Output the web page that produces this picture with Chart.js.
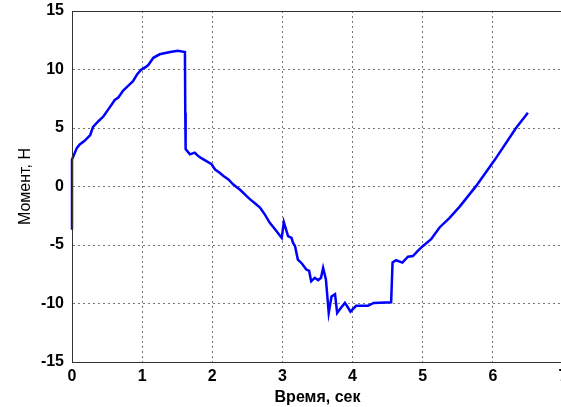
<!DOCTYPE html>
<html>
<head>
<meta charset="utf-8">
<script src="https://cdn.jsdelivr.net/npm/chart.js@4.4.0/dist/chart.umd.min.js"></script>
<style>
  html, body { margin: 0; padding: 0; background: #fff; overflow: hidden; }
  #wrap { width: 561px; height: 407px; overflow: hidden; }
  canvas { display: block; }
</style>
</head>
<body>
<div id="wrap"><canvas id="c" width="568" height="407" style="width:568px;height:407px"></canvas></div>
<script>
// time, s
const times = [
  0, 0, 0.07, 0.11, 0.18, 0.26, 0.30, 0.38, 0.45, 0.53, 0.61, 0.66, 0.73, 0.80, 0.87,
  0.93, 0.99, 1.05, 1.09, 1.16, 1.25, 1.40, 1.51, 1.61, 1.615, 1.62, 1.68, 1.75, 1.80,
  1.85, 1.99, 2.04, 2.10, 2.16, 2.23, 2.30, 2.40, 2.49, 2.54, 2.62, 2.68, 2.75, 2.82,
  2.90, 2.99, 3.02, 3.08, 3.13, 3.15, 3.18, 3.22, 3.28, 3.34, 3.38, 3.41, 3.46, 3.51,
  3.55, 3.58, 3.62, 3.66, 3.70, 3.75, 3.78, 3.83, 3.89, 3.93, 3.97, 4.05, 4.22, 4.30,
  4.55, 4.57, 4.62, 4.71, 4.79, 4.86, 4.93, 5.00, 5.12, 5.24, 5.38, 5.53, 5.76, 6.03,
  6.33, 6.5
];
// moment, H
const moment = [
  -3.7, 2.3, 3.3, 3.6, 3.9, 4.4, 5.1, 5.6, 6.0, 6.7, 7.4, 7.6, 8.2, 8.6, 9.0,
  9.6, 10.0, 10.2, 10.4, 11.0, 11.3, 11.5, 11.6, 11.5, 6.3, 3.2, 2.75, 2.9, 2.6,
  2.4, 1.9, 1.45, 1.2, 0.9, 0.6, 0.17, -0.3, -0.83, -1.1, -1.5, -1.8, -2.4, -3.1,
  -3.7, -4.4, -3.05, -4.25, -4.4, -4.8, -5.1, -6.25, -6.6, -7.1, -7.2, -8.1, -7.8, -8.0,
  -7.8, -6.95, -7.95, -10.8, -9.4, -9.2, -10.8, -10.4, -9.95, -10.3, -10.7, -10.2, -10.2, -9.95,
  -9.9, -6.5, -6.3, -6.5, -6.0, -5.95, -5.5, -5.1, -4.5, -3.5, -2.7, -1.7, 0.03, 2.3,
  5.0, 6.3
];
const xTicks = [0, 1, 2, 3, 4, 5, 6, 7];
const yTicks = [-15, -10, -5, 0, 5, 10, 15];

const points = times.map((t, i) => ({ x: t, y: moment[i] }));

// box around the axes, like the matlab frame
const frame = {
  id: 'frame',
  afterDraw(chart) {
    const a = chart.chartArea, ctx = chart.ctx;
    ctx.save();
    ctx.strokeStyle = '#333';
    ctx.lineWidth = 1;
    ctx.strokeRect(a.left + 0.5, a.top + 0.5, a.right - a.left, a.bottom - a.top);
    ctx.restore();
  }
};

const tickFont = { family: 'Liberation Sans, Arial, sans-serif', size: 16, weight: 'bold' };

// no automatic label overhang padding, layout.padding decides the box
const noPad = s => { s.paddingTop = 0; s.paddingBottom = 0; s.paddingLeft = 0; s.paddingRight = 0; };

new Chart(document.getElementById('c'), {
  type: 'line',
  data: {
    datasets: [{
      data: points,
      borderColor: '#0000ff',
      borderWidth: 2.5,
      pointRadius: 0,
      tension: 0,
      fill: false,
      clip: 4
    }]
  },
  options: {
    responsive: false,
    animation: false,
    layout: { padding: { top: 11, right: 5, left: 0, bottom: 0 } },
    plugins: { legend: { display: false }, tooltip: { enabled: false } },
    scales: {
      x: {
        type: 'linear',
        min: 0, max: 7,
        afterBuildTicks: s => { s.ticks = xTicks.map(v => ({ value: v })); },
        afterFit: s => { s.height = 45; noPad(s); },
        grid: { color: '#777', drawTicks: false },
        border: { color: '#333', dash: [2, 3] },
        ticks: { color: '#000', font: tickFont, padding: 5, maxRotation: 0 },
        title: {
          display: true, text: 'Время, сек', color: '#000',
          font: { family: 'Liberation Sans, Arial, sans-serif', size: 16, weight: 'bold' },
          padding: { top: 0, bottom: 0 }
        }
      },
      y: {
        min: -15, max: 15,
        afterBuildTicks: s => { s.ticks = yTicks.map(v => ({ value: v })); },
        afterFit: s => { s.width = 72; noPad(s); },
        grid: { color: '#777', drawTicks: false },
        border: { color: '#333', dash: [2, 3] },
        ticks: { color: '#000', font: tickFont, padding: 8 },
        title: {
          display: true, text: 'Момент, Н', color: '#000',
          font: { family: 'Liberation Sans, Arial, sans-serif', size: 16 },
          padding: { top: 16, bottom: 6 }
        }
      }
    }
  },
  plugins: [frame]
});
</script>
</body>
</html>
